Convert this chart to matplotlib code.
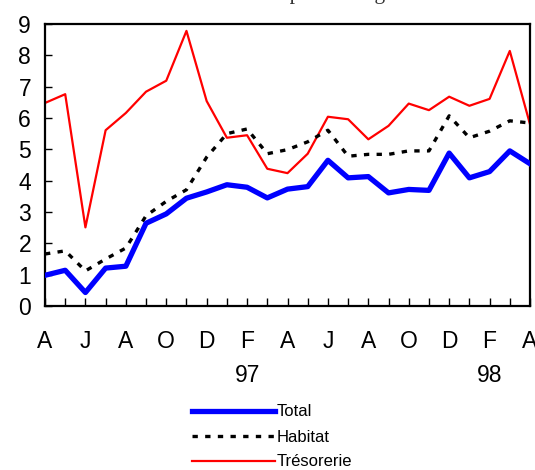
import matplotlib.pyplot as plt
from matplotlib.lines import Line2D
from matplotlib.transforms import blended_transform_factory

# Monthly series, April 1996 to April 1998 (12-month change, %)
total = [0.98, 1.14, 0.43, 1.21, 1.27, 2.64, 2.94, 3.44, 3.64, 3.87, 3.79, 3.45, 3.73,
         3.81, 4.65, 4.09, 4.13, 3.61, 3.72, 3.69, 4.88, 4.09, 4.29, 4.95, 4.54]
habitat = [1.66, 1.76, 1.12, 1.5, 1.85, 2.88, 3.34, 3.71, 4.75, 5.5, 5.65, 4.86, 4.99,
           5.24, 5.61, 4.78, 4.84, 4.84, 4.95, 4.95, 6.07, 5.37, 5.58, 5.91, 5.84]
tresorerie = [6.48, 6.76, 2.51, 5.61, 6.16, 6.84, 7.19, 8.78, 6.54, 5.37, 5.45, 4.38, 4.24,
              4.86, 6.04, 5.96, 5.32, 5.75, 6.46, 6.25, 6.68, 6.39, 6.61, 8.14, 5.8]
month_labels = ['A', 'J', 'A', 'O', 'D', 'F', 'A', 'J', 'A', 'O', 'D', 'F', 'A']
years = {10: '97', 22: '98'}

plt.rcParams['font.family'] = ['Liberation Sans', 'DejaVu Sans']

fig = plt.figure(figsize=(5.35, 4.70), dpi=100)
ax = fig.add_axes([45 / 535, 1 - 306 / 470, 485 / 535, 282 / 470])

x = list(range(len(total)))
ax.plot(x, tresorerie, color='#ff0000', lw=1.6, zorder=2)
ax.plot(x, habitat, color='black', lw=2.4, linestyle=(0, (1.6, 2.2)), zorder=3)
ax.plot(x, total, color='#0000ff', lw=3.8, solid_joinstyle='round', zorder=4)

ax.set_xlim(0, 24)
ax.set_ylim(0, 9)
ax.set_yticks(range(10))
ax.set_xticks(range(25), minor=True)
ax.set_xticks(range(0, 25, 2))
ax.set_xticklabels(month_labels)
ax.tick_params(axis='y', direction='in', length=5, width=1, labelsize=16.5, pad=10)
ax.tick_params(axis='x', which='both', direction='in', length=6, width=1, labelsize=16.5, pad=17)
for s in ax.spines.values():
    s.set_linewidth(1.6)

trans = blended_transform_factory(ax.transData, fig.transFigure)
for i, yr in years.items():
    ax.text(i, 1 - 375 / 470, yr, transform=trans, ha='center', va='center', fontsize=16.5)

# title sits mostly above the page edge
fig.text(44 / 535, 1 + 1.2 / 470, 'Variation sur douze mois en pourcentage', ha='left',
         va='baseline', fontsize=15.5, family='Liberation Serif', color='#333333')

handles = [Line2D([], [], color='#0000ff', lw=3.8),
           Line2D([], [], color='black', lw=2.4, linestyle=(0, (1.6, 2.2))),
           Line2D([], [], color='#ff0000', lw=1.6)]
fig.legend(handles, ['Total', 'Habitat', 'Trésorerie'], loc='center',
           bbox_to_anchor=(272 / 535, 1 - 437 / 470), frameon=False, fontsize=12,
           handlelength=5.0, handletextpad=0.1, labelspacing=0.6, borderpad=0)

fig.savefig('out.png', dpi=100)
